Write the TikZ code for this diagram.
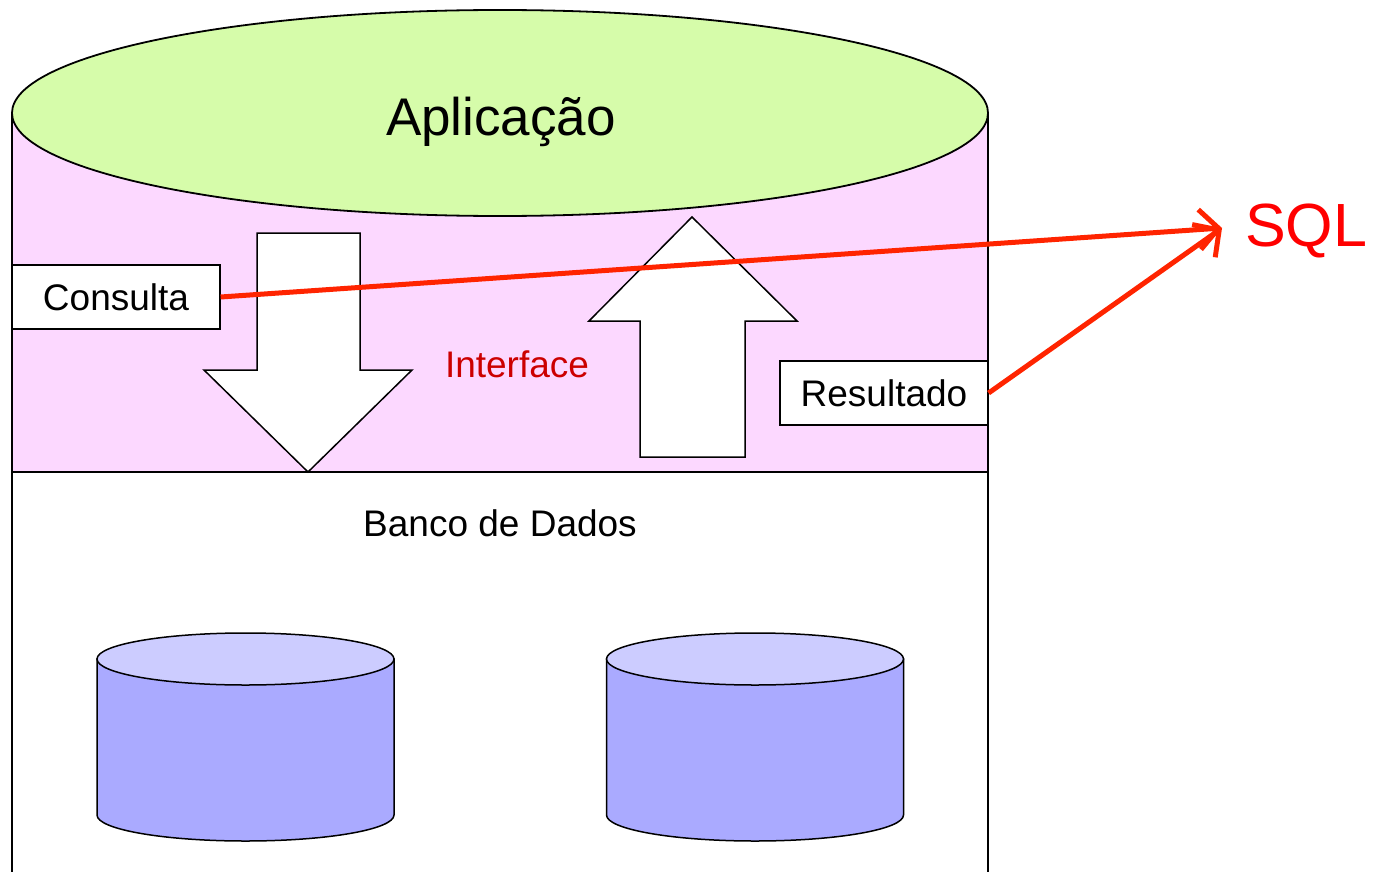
\documentclass[tikz,border=0pt]{standalone}
\usepackage{fontspec}
\setmainfont{Liberation Sans}
\usetikzlibrary{arrows.meta}
\definecolor{apgreen}{RGB}{214,252,170}
\definecolor{ifpink}{RGB}{252,216,255}
\definecolor{dbtop}{RGB}{204,204,255}
\definecolor{dbbody}{RGB}{170,170,255}
\definecolor{ifred}{RGB}{204,0,0}
\definecolor{sqlred}{RGB}{255,36,0}
\tikzset{
  label box/.style={draw,fill=white,line width=1.2pt,minimum width=208pt,minimum height=64pt,inner sep=0pt,font=\fontsize{37}{44}\selectfont},
  block arrow/.style={draw,fill=white,line width=1.5pt,line join=miter},
  sql link/.style={sqlred,line width=5pt,-{Straight Barb[length=19pt,width=40pt,line width=5pt]}}
}
\begin{document}
\begin{tikzpicture}[x=1pt,y=-1pt]
        \useasboundingbox (0,0) rectangle (1375,872);
        % Interface band
        \fill[ifpink] (12,113) rectangle (988,472);
        \draw[line width=1.2pt] (12,113) -- (12,872);
        \draw[line width=1.2pt] (988,113) -- (988,872);
        \draw[line width=1.2pt] (12,472) -- (988,472);
        % Application
        \draw[fill=apgreen,line width=1.8pt] (500,113) ellipse [x radius=488pt,y radius=103pt];
        \node (aplic) at (501,122) {\fontsize{53}{60}\selectfont Aplicação};
        % Arrows
        \draw[block arrow] (257,233) -- (360,233) -- (360,370) -- (412,370) -- (308,472)
          -- (204,370) -- (257,370) -- cycle;
        \draw[block arrow] (692,217) -- (797,321) -- (745,321) -- (745,457) -- (640,457)
          -- (640,321) -- (589,321) -- cycle;
        % Labels
        \node[text=ifred,font=\fontsize{37}{44}\selectfont] (iface) at (517,364) {Interface};
        \node[label box] (consulta) at (116,297) {Consulta};
        \node[label box] (result) at (884,393) {Resultado};
        \node[text=red,inner sep=0pt,anchor=west,font=\fontsize{61}{70}\selectfont] (sql) at (1245,231) {SQL};
        \coordinate (tip) at (1222,228);
        % SQL
        \draw[sql link] (consulta.east) -- (tip);
        \draw[sql link] (result.east) -- (tip);
        % Database
        \node[font=\fontsize{37}{44}\selectfont] (banco) at (500,523) {Banco de Dados};
        \foreach \cx/\name in {245.5/dbA,755/dbB} {
          \draw[fill=dbbody,line width=1.5pt] (\cx-148.5,659) -- (\cx-148.5,815)
            arc[start angle=180,end angle=360,x radius=148.5pt,y radius=26pt] -- (\cx+148.5,659) -- cycle;
          \draw[fill=dbtop,line width=1.5pt] (\cx,659) ellipse [x radius=148.5pt,y radius=26pt];
        }
    \end{tikzpicture}
\end{document}
